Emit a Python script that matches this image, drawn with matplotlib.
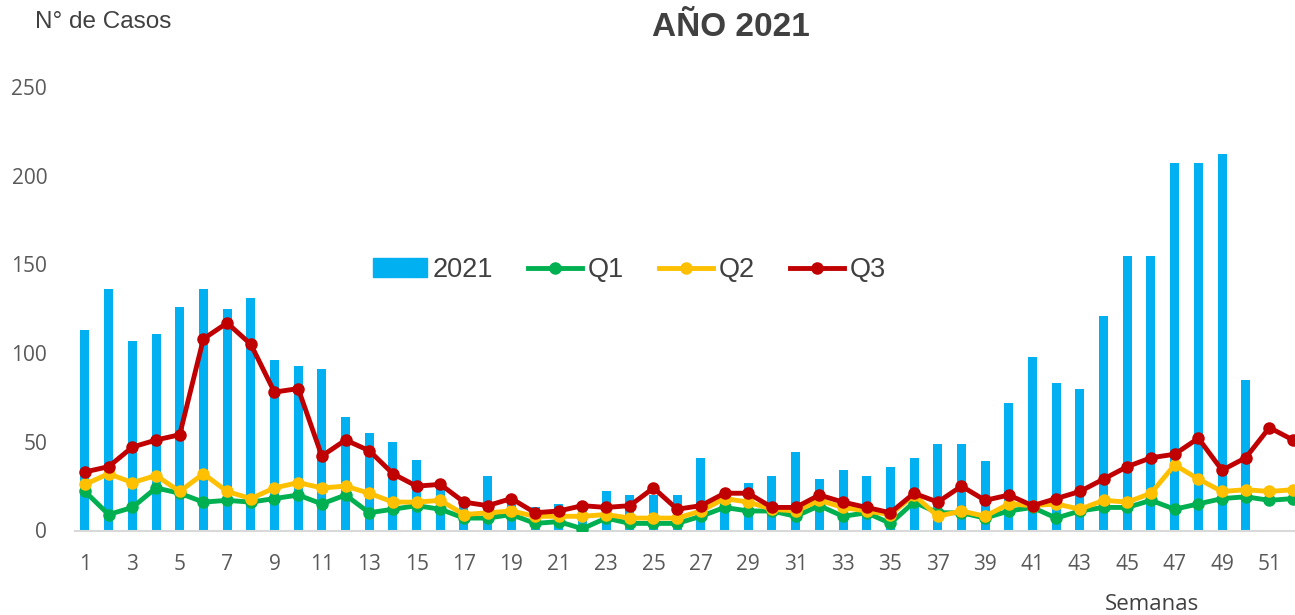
import numpy as np
import matplotlib.pyplot as plt
from matplotlib.patches import Patch
from matplotlib.lines import Line2D

#%% datos
semanas=np.arange(1,53)
casos_2021=[113,136,107,111,126,136,125,131,96,93,91,64,55,50,40,25,19,31,17,13,
            15,12,22,20,20,20,41,16,27,31,44,29,34,31,36,41,49,49,39,72,
            98,83,80,121,155,155,207,207,212,85,np.nan,np.nan]
q1=[22,9,13,24,21,16,17,16,18,20,15,20,10,12,14,12,7,7,9,4,5,1,7,4,4,4,
    8,13,11,11,8,14,8,10,4,16,10,10,7,11,13,7,11,13,13,17,12,15,18,19,17,18]
q2=[26,32,27,31,22,32,22,18,24,27,24,25,21,16,16,17,9,10,11,8,8,8,9,7,7,7,
    11,18,16,12,11,17,13,11,9,20,8,11,8,15,14,15,12,17,16,21,37,29,22,23,22,23]
q3=[33,36,47,51,54,108,117,105,78,80,42,51,45,32,25,26,16,14,18,10,11,14,13,14,24,12,
    14,21,21,13,13,20,16,13,10,21,16,25,17,20,14,18,22,29,36,41,43,52,34,41,58,51]
etiquetas=['2021','Q1','Q2','Q3']

c_bar='#00B0F0'
colores=['#00B050','#FFC000','#C00000']
gris='#404040'

#%% grafico
fig=plt.figure(figsize=(12.95,6.15),dpi=100)
ax=fig.add_axes([75/1295,84.5/615,1-75/1295,443.5/615])

ax.bar(semanas,casos_2021,width=0.38,color=c_bar,zorder=1)
for serie,col in zip([q1,q2,q3],colores):
    ax.plot(semanas,serie,'-o',color=col,linewidth=3.5,markersize=8,zorder=3)

ax.set_xlim(0.58,52.08)
ax.set_ylim(0,250)
ax.set_xticks(range(1,52,2))
ax.set_yticks(range(0,251,50))
ax.tick_params(length=0,labelsize=15,labelcolor='#595959')
ax.tick_params(axis='x',pad=17)
ax.tick_params(axis='y',pad=20)
for lab in ax.get_xticklabels()+ax.get_yticklabels():
    lab.set_fontfamily('Open Sans')
for s in ['top','right','left']:
    ax.spines[s].set_visible(False)
ax.spines['bottom'].set_color('#d9d9d9')
ax.spines['bottom'].set_linewidth(1.5)

#leyenda
handles=[Patch(color=c_bar)]
for col in colores:
    handles.append(Line2D([],[],color=col,linewidth=3.5,marker='o',markersize=8))
fig.legend(handles,etiquetas,loc='center',bbox_to_anchor=(0.486,1-270/615),ncol=4,
           frameon=False,handlelength=2.0,handletextpad=0.2,columnspacing=1.3,
           prop={'family':'Liberation Sans','size':19.5},labelcolor=gris)

#textos
fig.text(731/1295,1-28/615,'AÑO 2021',ha='center',va='center',fontsize=24,
         fontweight='bold',family='Liberation Sans',color=gris)
fig.text(35/1295,1-22/615,'N° de Casos',ha='left',va='center',fontsize=17.5,
         family='Liberation Sans',color=gris)
fig.text(1152/1295,1-605/615,'Semanas',ha='center',va='center',fontsize=16,
         family='Open Sans',color=gris)

plt.savefig('out.png',dpi=100)
